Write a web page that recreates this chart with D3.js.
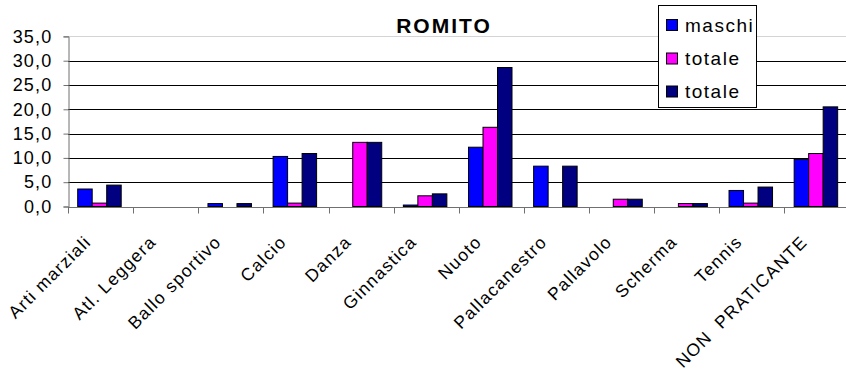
<!DOCTYPE html>
<html>
<head>
<meta charset="utf-8">
<script src="https://cdn.jsdelivr.net/npm/d3@7"></script>
<style>
  body { margin: 0; background: #fff; }
  svg text { font-family: "Liberation Sans", Arial, sans-serif; fill: #000; }
</style>
</head>
<body>
<div id="wrapper"></div>
<script>
// Data
const categories = ["Arti marziali", "Atl. Leggera", "Ballo sportivo", "Calcio", "Danza", "Ginnastica",
  "Nuoto", "Pallacanestro", "Pallavolo", "Scherma", "Tennis", "NON  PRATICANTE"];
const seriesNames = ["maschi", "totale", "totale"];
const maschi  = [3.6, 0, 0.6, 10.3, 0, 0.3, 12.2, 8.3, 0, 0, 3.3, 9.7];
const femmine = [0.7, 0, 0, 0.7, 13.2, 2.2, 16.3, 0, 1.5, 0.6, 0.7, 10.9];
const totale  = [4.4, 0, 0.6, 10.9, 13.2, 2.6, 28.6, 8.3, 1.5, 0.6, 4.0, 20.5];
const yTicks  = [0, 5, 10, 15, 20, 25, 30, 35];

const colors = ["#0000FF", "#FF00FF", "#000080"];
const seriesValues = [maschi, femmine, totale];

const W = 846, H = 371;
const plotLeft = 68, plotRight = 849.6, plotTop = 36.4, plotBottom = 206.5;

const svg = d3.select("#wrapper").append("svg")
  .attr("width", W).attr("height", H);

const x = d3.scaleBand().domain(categories).range([plotLeft, plotRight]);
const x1 = d3.scaleBand().domain([0, 1, 2]).range([9.7, 9.7 + 43.5]);
const y = d3.scaleLinear().domain([0, 35]).range([plotBottom, plotTop]);

const crisp = v => Math.round(v) + 0.5;

// gridlines
svg.append("g")
  .selectAll("line")
  .data(yTicks.filter(d => d > 0))
  .enter()
  .append("line")
    .attr("x1", plotLeft).attr("x2", W)
    .attr("y1", d => crisp(y(d))).attr("y2", d => crisp(y(d)))
    .attr("stroke", d => d == 35 ? "#d4d4d4" : "#000")
    .attr("stroke-width", 1)

// y axis
const yAxis = svg.append("g")
  .attr("transform", `translate(${crisp(plotLeft)},0)`)
  .call(d3.axisLeft(y).tickValues(yTicks).tickSize(5).tickPadding(11)
    .tickFormat(d => d3.format(".1f")(d).replace(".", ",")));
yAxis.select(".domain").attr("stroke", "#707070");
yAxis.selectAll(".tick line").attr("stroke", "#707070");
yAxis.selectAll("text")
  .style("font-size", "18px")
  .style("letter-spacing", "1.2px")
  .style("font-family", "'Liberation Sans', Arial, sans-serif")
  .attr("fill", "#000");

// bottom axis line and category ticks
svg.append("line")
  .attr("x1", plotLeft).attr("x2", W)
  .attr("y1", crisp(plotBottom)).attr("y2", crisp(plotBottom))
  .attr("stroke", "#707070")
svg.append("g")
  .selectAll("line")
  .data(categories)
  .enter()
  .append("line")
    .attr("x1", d => crisp(x(d))).attr("x2", d => crisp(x(d)))
    .attr("y1", crisp(plotBottom)).attr("y2", crisp(plotBottom) + 6)
    .attr("stroke", "#707070")

// bars
seriesValues.forEach((vals, s) => {
  svg.append("g")
    .selectAll("rect")
    .data(vals)
    .enter()
    .append("rect")
      .attr("x", (d, i) => x(categories[i]) + x1(s))
      .attr("y", d => y(d))
      .attr("width", x1.bandwidth())
      .attr("height", d => plotBottom - y(d))
      .attr("fill", colors[s])
      .attr("stroke", "#000")
      .attr("stroke-width", 1)
      .style("display", d => d > 0 ? null : "none")
});

// category labels, rotated
svg.append("g")
  .selectAll("text")
  .data(categories)
  .enter()
  .append("text")
    .attr("transform", d => `translate(${x(d) + x.bandwidth() / 2 - 8.5},243) rotate(-45)`)
    .attr("text-anchor", "end")
    .style("font-size", "17.5px")
    .style("letter-spacing", "1.3px")
    .style("white-space", "pre")
    .text(d => d)

// title
svg.append("text")
  .attr("x", 444).attr("y", 33)
  .attr("text-anchor", "middle")
  .style("font-size", "21px")
  .style("font-weight", "bold")
  .style("letter-spacing", "2px")
  .text("ROMITO")

// legend
const legend = svg.append("g");
legend.append("rect")
  .attr("x", 658.5).attr("y", 5.5)
  .attr("width", 98).attr("height", 102)
  .attr("fill", "#fff").attr("stroke", "#000")
const rows = [25, 58.5, 91.5];
legend.selectAll("rect.key")
  .data(seriesNames)
  .enter()
  .append("rect")
    .attr("class", "key")
    .attr("x", 666.5)
    .attr("y", (d, i) => rows[i] - 5.5)
    .attr("width", 11).attr("height", 11)
    .attr("fill", (d, i) => colors[i])
    .attr("stroke", "#000")
legend.selectAll("text")
  .data(seriesNames)
  .enter()
  .append("text")
    .attr("x", 685)
    .attr("y", (d, i) => rows[i] + 6.5)
    .style("font-size", "19px")
    .style("letter-spacing", "1.5px")
    .text(d => d)
</script>
</body>
</html>
